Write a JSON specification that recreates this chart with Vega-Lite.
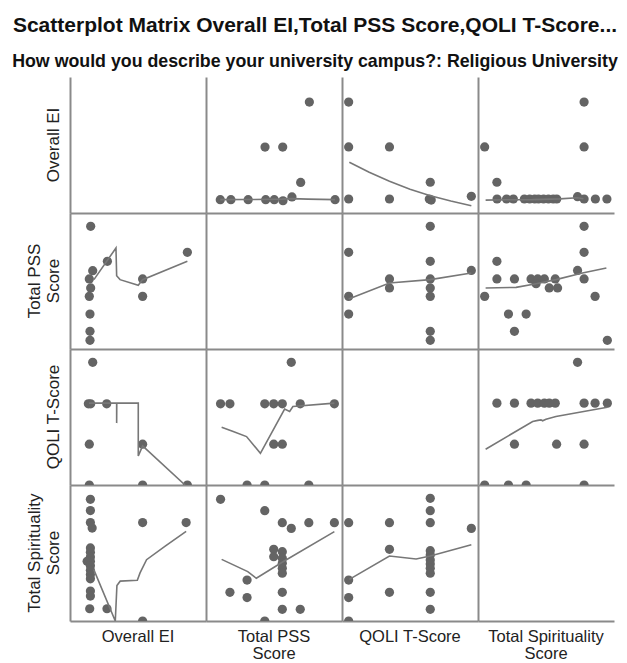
{
"$schema":"https://vega.github.io/schema/vega-lite/v6.json",
"padding":{"left":12,"top":15,"right":5,"bottom":5},
"title":{"text":"Scatterplot Matrix Overall EI,Total PSS Score,QOLI T-Score...","subtitle":"How would you describe your university campus?: Religious University","font":"Liberation Sans","fontSize":21,"fontWeight":"bold","color":"#111111","subtitleFont":"Liberation Sans","subtitleFontSize":17.8,"subtitleFontWeight":"bold","subtitleColor":"#111111","anchor":"middle","dx":-5,"subtitlePadding":17,"offset":6},
"data":{"values":[
{"yVar":"Overall EI","xVar":"Overall EI","k":"none"},
{"yVar":"Total PSS Score","xVar":"Total PSS Score","k":"none"},
{"yVar":"QOLI T-Score","xVar":"QOLI T-Score","k":"none"},
{"yVar":"Total Spirituality Score","xVar":"Total Spirituality Score","k":"none"},

{"yVar":"Overall EI","xVar":"Total PSS Score","k":"pt","x":10.5,"y":9.8},
{"yVar":"Overall EI","xVar":"Total PSS Score","k":"pt","x":18.3,"y":9.8},
{"yVar":"Overall EI","xVar":"Total PSS Score","k":"pt","x":31,"y":9.8},
{"yVar":"Overall EI","xVar":"Total PSS Score","k":"pt","x":43.9,"y":9.8},
{"yVar":"Overall EI","xVar":"Total PSS Score","k":"pt","x":50.2,"y":9.8},
{"yVar":"Overall EI","xVar":"Total PSS Score","k":"pt","x":56.6,"y":9.0},
{"yVar":"Overall EI","xVar":"Total PSS Score","k":"pt","x":63.2,"y":11.8},
{"yVar":"Overall EI","xVar":"Total PSS Score","k":"pt","x":94.9,"y":9.8},
{"yVar":"Overall EI","xVar":"Total PSS Score","k":"pt","x":69.6,"y":22.5},
{"yVar":"Overall EI","xVar":"Total PSS Score","k":"pt","x":43.4,"y":48.5},
{"yVar":"Overall EI","xVar":"Total PSS Score","k":"pt","x":56.4,"y":48.5},
{"yVar":"Overall EI","xVar":"Total PSS Score","k":"pt","x":76,"y":81.6},
{"yVar":"Overall EI","xVar":"Total PSS Score","k":"fit","i":1,"x":10.5,"y":9.8},
{"yVar":"Overall EI","xVar":"Total PSS Score","k":"fit","i":2,"x":30,"y":9.9},
{"yVar":"Overall EI","xVar":"Total PSS Score","k":"fit","i":3,"x":56,"y":10.2},
{"yVar":"Overall EI","xVar":"Total PSS Score","k":"fit","i":4,"x":63,"y":10.6},
{"yVar":"Overall EI","xVar":"Total PSS Score","k":"fit","i":5,"x":75,"y":10.2},
{"yVar":"Overall EI","xVar":"Total PSS Score","k":"fit","i":6,"x":94.9,"y":9.8},

{"yVar":"Overall EI","xVar":"QOLI T-Score","k":"pt","x":4.9,"y":81.6},
{"yVar":"Overall EI","xVar":"QOLI T-Score","k":"pt","x":4.9,"y":48.6},
{"yVar":"Overall EI","xVar":"QOLI T-Score","k":"pt","x":34.9,"y":48.6},
{"yVar":"Overall EI","xVar":"QOLI T-Score","k":"pt","x":64.9,"y":22.6},
{"yVar":"Overall EI","xVar":"QOLI T-Score","k":"pt","x":4.9,"y":10.3},
{"yVar":"Overall EI","xVar":"QOLI T-Score","k":"pt","x":34.9,"y":10.3},
{"yVar":"Overall EI","xVar":"QOLI T-Score","k":"pt","x":64.2,"y":10.3},
{"yVar":"Overall EI","xVar":"QOLI T-Score","k":"pt","x":65.6,"y":9.5},
{"yVar":"Overall EI","xVar":"QOLI T-Score","k":"pt","x":95.1,"y":12.3},
{"yVar":"Overall EI","xVar":"QOLI T-Score","k":"fit","i":1,"x":5.4,"y":37.3},
{"yVar":"Overall EI","xVar":"QOLI T-Score","k":"fit","i":2,"x":20,"y":30},
{"yVar":"Overall EI","xVar":"QOLI T-Score","k":"fit","i":3,"x":34.9,"y":23.3},
{"yVar":"Overall EI","xVar":"QOLI T-Score","k":"fit","i":4,"x":50,"y":17.5},
{"yVar":"Overall EI","xVar":"QOLI T-Score","k":"fit","i":5,"x":64.4,"y":12.8},
{"yVar":"Overall EI","xVar":"QOLI T-Score","k":"fit","i":6,"x":80,"y":8.8},
{"yVar":"Overall EI","xVar":"QOLI T-Score","k":"fit","i":7,"x":95.1,"y":5.4},

{"yVar":"Overall EI","xVar":"Total Spirituality Score","k":"pt","x":4.9,"y":48.6},
{"yVar":"Overall EI","xVar":"Total Spirituality Score","k":"pt","x":13.9,"y":22.6},
{"yVar":"Overall EI","xVar":"Total Spirituality Score","k":"pt","x":78,"y":81.6},
{"yVar":"Overall EI","xVar":"Total Spirituality Score","k":"pt","x":78,"y":48.6},
{"yVar":"Overall EI","xVar":"Total Spirituality Score","k":"pt","x":14,"y":10.3},
{"yVar":"Overall EI","xVar":"Total Spirituality Score","k":"pt","x":21,"y":10.3},
{"yVar":"Overall EI","xVar":"Total Spirituality Score","k":"pt","x":26,"y":10.3},
{"yVar":"Overall EI","xVar":"Total Spirituality Score","k":"pt","x":34.1,"y":10.3},
{"yVar":"Overall EI","xVar":"Total Spirituality Score","k":"pt","x":38,"y":10.3},
{"yVar":"Overall EI","xVar":"Total Spirituality Score","k":"pt","x":41.7,"y":10.3},
{"yVar":"Overall EI","xVar":"Total Spirituality Score","k":"pt","x":44.5,"y":10.3},
{"yVar":"Overall EI","xVar":"Total Spirituality Score","k":"pt","x":48.2,"y":10.3},
{"yVar":"Overall EI","xVar":"Total Spirituality Score","k":"pt","x":51.8,"y":10.3},
{"yVar":"Overall EI","xVar":"Total Spirituality Score","k":"pt","x":55.3,"y":10.3},
{"yVar":"Overall EI","xVar":"Total Spirituality Score","k":"pt","x":57.9,"y":10.3},
{"yVar":"Overall EI","xVar":"Total Spirituality Score","k":"pt","x":73.2,"y":12},
{"yVar":"Overall EI","xVar":"Total Spirituality Score","k":"pt","x":78,"y":10.3},
{"yVar":"Overall EI","xVar":"Total Spirituality Score","k":"pt","x":86.3,"y":10.3},
{"yVar":"Overall EI","xVar":"Total Spirituality Score","k":"pt","x":94.8,"y":10.3},
{"yVar":"Overall EI","xVar":"Total Spirituality Score","k":"fit","i":1,"x":5.6,"y":9.5},
{"yVar":"Overall EI","xVar":"Total Spirituality Score","k":"fit","i":2,"x":20,"y":9.7},
{"yVar":"Overall EI","xVar":"Total Spirituality Score","k":"fit","i":3,"x":40,"y":9.8},
{"yVar":"Overall EI","xVar":"Total Spirituality Score","k":"fit","i":4,"x":60,"y":10.4},
{"yVar":"Overall EI","xVar":"Total Spirituality Score","k":"fit","i":5,"x":73,"y":11.2},
{"yVar":"Overall EI","xVar":"Total Spirituality Score","k":"fit","i":6,"x":77.5,"y":10.5},

{"yVar":"Total PSS Score","xVar":"Overall EI","k":"pt","x":15.2,"y":90.2},
{"yVar":"Total PSS Score","xVar":"Overall EI","k":"pt","x":27.5,"y":64.5},
{"yVar":"Total PSS Score","xVar":"Overall EI","k":"pt","x":16.7,"y":57.6},
{"yVar":"Total PSS Score","xVar":"Overall EI","k":"pt","x":14.2,"y":51.5},
{"yVar":"Total PSS Score","xVar":"Overall EI","k":"pt","x":15.2,"y":44.9},
{"yVar":"Total PSS Score","xVar":"Overall EI","k":"pt","x":14.2,"y":38.7},
{"yVar":"Total PSS Score","xVar":"Overall EI","k":"pt","x":14.7,"y":25.7},
{"yVar":"Total PSS Score","xVar":"Overall EI","k":"pt","x":14.7,"y":13},
{"yVar":"Total PSS Score","xVar":"Overall EI","k":"pt","x":14.7,"y":6.4},
{"yVar":"Total PSS Score","xVar":"Overall EI","k":"pt","x":53.4,"y":51.5},
{"yVar":"Total PSS Score","xVar":"Overall EI","k":"pt","x":53.4,"y":38.7},
{"yVar":"Total PSS Score","xVar":"Overall EI","k":"pt","x":86.3,"y":71.1},
{"yVar":"Total PSS Score","xVar":"Overall EI","k":"fit","i":1,"x":17.6,"y":51},
{"yVar":"Total PSS Score","xVar":"Overall EI","k":"fit","i":2,"x":33.8,"y":74.3},
{"yVar":"Total PSS Score","xVar":"Overall EI","k":"fit","i":3,"x":34.3,"y":53.9},
{"yVar":"Total PSS Score","xVar":"Overall EI","k":"fit","i":4,"x":36.8,"y":51},
{"yVar":"Total PSS Score","xVar":"Overall EI","k":"fit","i":5,"x":50.2,"y":46.8},
{"yVar":"Total PSS Score","xVar":"Overall EI","k":"fit","i":6,"x":53.4,"y":51},
{"yVar":"Total PSS Score","xVar":"Overall EI","k":"fit","i":7,"x":86.3,"y":64.5},

{"yVar":"Total PSS Score","xVar":"QOLI T-Score","k":"pt","x":64.9,"y":90.2},
{"yVar":"Total PSS Score","xVar":"QOLI T-Score","k":"pt","x":4.9,"y":71.1},
{"yVar":"Total PSS Score","xVar":"QOLI T-Score","k":"pt","x":64.9,"y":64.5},
{"yVar":"Total PSS Score","xVar":"QOLI T-Score","k":"pt","x":34.9,"y":51.5},
{"yVar":"Total PSS Score","xVar":"QOLI T-Score","k":"pt","x":34.9,"y":44.9},
{"yVar":"Total PSS Score","xVar":"QOLI T-Score","k":"pt","x":64.9,"y":51.5},
{"yVar":"Total PSS Score","xVar":"QOLI T-Score","k":"pt","x":64.9,"y":44.9},
{"yVar":"Total PSS Score","xVar":"QOLI T-Score","k":"pt","x":64.9,"y":38.7},
{"yVar":"Total PSS Score","xVar":"QOLI T-Score","k":"pt","x":4.9,"y":38.7},
{"yVar":"Total PSS Score","xVar":"QOLI T-Score","k":"pt","x":4.9,"y":25.7},
{"yVar":"Total PSS Score","xVar":"QOLI T-Score","k":"pt","x":64.9,"y":13},
{"yVar":"Total PSS Score","xVar":"QOLI T-Score","k":"pt","x":64.9,"y":6.4},
{"yVar":"Total PSS Score","xVar":"QOLI T-Score","k":"pt","x":95.1,"y":57.8},
{"yVar":"Total PSS Score","xVar":"QOLI T-Score","k":"fit","i":1,"x":4.9,"y":36.8},
{"yVar":"Total PSS Score","xVar":"QOLI T-Score","k":"fit","i":2,"x":34.9,"y":48.5},
{"yVar":"Total PSS Score","xVar":"QOLI T-Score","k":"fit","i":3,"x":64.9,"y":51},
{"yVar":"Total PSS Score","xVar":"QOLI T-Score","k":"fit","i":4,"x":95.1,"y":55.9},

{"yVar":"Total PSS Score","xVar":"Total Spirituality Score","k":"pt","x":78,"y":90.2},
{"yVar":"Total PSS Score","xVar":"Total Spirituality Score","k":"pt","x":78,"y":71.1},
{"yVar":"Total PSS Score","xVar":"Total Spirituality Score","k":"pt","x":13.9,"y":64.5},
{"yVar":"Total PSS Score","xVar":"Total Spirituality Score","k":"pt","x":73.2,"y":57.8},
{"yVar":"Total PSS Score","xVar":"Total Spirituality Score","k":"pt","x":13.9,"y":51.5},
{"yVar":"Total PSS Score","xVar":"Total Spirituality Score","k":"pt","x":26.8,"y":51.5},
{"yVar":"Total PSS Score","xVar":"Total Spirituality Score","k":"pt","x":39,"y":51.5},
{"yVar":"Total PSS Score","xVar":"Total Spirituality Score","k":"pt","x":43.9,"y":51.5},
{"yVar":"Total PSS Score","xVar":"Total Spirituality Score","k":"pt","x":48.8,"y":51.5},
{"yVar":"Total PSS Score","xVar":"Total Spirituality Score","k":"pt","x":56.8,"y":51.5},
{"yVar":"Total PSS Score","xVar":"Total Spirituality Score","k":"pt","x":78,"y":51.5},
{"yVar":"Total PSS Score","xVar":"Total Spirituality Score","k":"pt","x":42.7,"y":48},
{"yVar":"Total PSS Score","xVar":"Total Spirituality Score","k":"pt","x":52.4,"y":44.9},
{"yVar":"Total PSS Score","xVar":"Total Spirituality Score","k":"pt","x":58.5,"y":44.9},
{"yVar":"Total PSS Score","xVar":"Total Spirituality Score","k":"pt","x":4.9,"y":38.7},
{"yVar":"Total PSS Score","xVar":"Total Spirituality Score","k":"pt","x":86.1,"y":38.7},
{"yVar":"Total PSS Score","xVar":"Total Spirituality Score","k":"pt","x":22.4,"y":25.7},
{"yVar":"Total PSS Score","xVar":"Total Spirituality Score","k":"pt","x":35.4,"y":25.7},
{"yVar":"Total PSS Score","xVar":"Total Spirituality Score","k":"pt","x":26.8,"y":13},
{"yVar":"Total PSS Score","xVar":"Total Spirituality Score","k":"pt","x":95.1,"y":6.4},
{"yVar":"Total PSS Score","xVar":"Total Spirituality Score","k":"fit","i":1,"x":5.6,"y":44.9},
{"yVar":"Total PSS Score","xVar":"Total Spirituality Score","k":"fit","i":2,"x":28,"y":45.3},
{"yVar":"Total PSS Score","xVar":"Total Spirituality Score","k":"fit","i":3,"x":42.7,"y":48},
{"yVar":"Total PSS Score","xVar":"Total Spirituality Score","k":"fit","i":4,"x":57.3,"y":51},
{"yVar":"Total PSS Score","xVar":"Total Spirituality Score","k":"fit","i":5,"x":76.8,"y":55.9},
{"yVar":"Total PSS Score","xVar":"Total Spirituality Score","k":"fit","i":6,"x":94.4,"y":59.6},

{"yVar":"QOLI T-Score","xVar":"Overall EI","k":"pt","x":16.7,"y":90.2},
{"yVar":"QOLI T-Score","xVar":"Overall EI","k":"pt","x":13.5,"y":59.7},
{"yVar":"QOLI T-Score","xVar":"Overall EI","k":"pt","x":15.2,"y":59.7},
{"yVar":"QOLI T-Score","xVar":"Overall EI","k":"pt","x":27,"y":59.7},
{"yVar":"QOLI T-Score","xVar":"Overall EI","k":"pt","x":14.2,"y":30},
{"yVar":"QOLI T-Score","xVar":"Overall EI","k":"pt","x":53.4,"y":30},
{"yVar":"QOLI T-Score","xVar":"Overall EI","k":"pt","x":14.2,"y":0},
{"yVar":"QOLI T-Score","xVar":"Overall EI","k":"pt","x":53.4,"y":0},
{"yVar":"QOLI T-Score","xVar":"Overall EI","k":"pt","x":86.3,"y":0},
{"yVar":"QOLI T-Score","xVar":"Overall EI","k":"fit","i":1,"x":14,"y":60.2},
{"yVar":"QOLI T-Score","xVar":"Overall EI","k":"fit","i":2,"x":34.3,"y":60.2},
{"yVar":"QOLI T-Score","xVar":"Overall EI","k":"fit","i":3,"x":34.3,"y":45.5},
{"yVar":"QOLI T-Score","xVar":"Overall EI","k":"fit","i":4,"x":34.4,"y":60.2},
{"yVar":"QOLI T-Score","xVar":"Overall EI","k":"fit","i":5,"x":50.2,"y":60.2},
{"yVar":"QOLI T-Score","xVar":"Overall EI","k":"fit","i":6,"x":50.2,"y":21.4},
{"yVar":"QOLI T-Score","xVar":"Overall EI","k":"fit","i":7,"x":53.4,"y":28.7},
{"yVar":"QOLI T-Score","xVar":"Overall EI","k":"fit","i":8,"x":84.6,"y":0},

{"yVar":"QOLI T-Score","xVar":"Total PSS Score","k":"pt","x":62.7,"y":90.2},
{"yVar":"QOLI T-Score","xVar":"Total PSS Score","k":"pt","x":10.7,"y":59.7},
{"yVar":"QOLI T-Score","xVar":"Total PSS Score","k":"pt","x":17.6,"y":59.7},
{"yVar":"QOLI T-Score","xVar":"Total PSS Score","k":"pt","x":43.2,"y":59.7},
{"yVar":"QOLI T-Score","xVar":"Total PSS Score","k":"pt","x":49.8,"y":59.7},
{"yVar":"QOLI T-Score","xVar":"Total PSS Score","k":"pt","x":56.1,"y":59.7},
{"yVar":"QOLI T-Score","xVar":"Total PSS Score","k":"pt","x":69.3,"y":59.7},
{"yVar":"QOLI T-Score","xVar":"Total PSS Score","k":"pt","x":94.4,"y":59.7},
{"yVar":"QOLI T-Score","xVar":"Total PSS Score","k":"pt","x":49.8,"y":30},
{"yVar":"QOLI T-Score","xVar":"Total PSS Score","k":"pt","x":56.1,"y":30},
{"yVar":"QOLI T-Score","xVar":"Total PSS Score","k":"pt","x":30.2,"y":0},
{"yVar":"QOLI T-Score","xVar":"Total PSS Score","k":"pt","x":43.2,"y":0},
{"yVar":"QOLI T-Score","xVar":"Total PSS Score","k":"pt","x":75.6,"y":0},
{"yVar":"QOLI T-Score","xVar":"Total PSS Score","k":"fit","i":1,"x":11.5,"y":42.5},
{"yVar":"QOLI T-Score","xVar":"Total PSS Score","k":"fit","i":2,"x":20,"y":39.3},
{"yVar":"QOLI T-Score","xVar":"Total PSS Score","k":"fit","i":3,"x":29.8,"y":35.6},
{"yVar":"QOLI T-Score","xVar":"Total PSS Score","k":"fit","i":4,"x":40,"y":23.3},
{"yVar":"QOLI T-Score","xVar":"Total PSS Score","k":"fit","i":5,"x":57.8,"y":55.8},
{"yVar":"QOLI T-Score","xVar":"Total PSS Score","k":"fit","i":6,"x":61.5,"y":54},
{"yVar":"QOLI T-Score","xVar":"Total PSS Score","k":"fit","i":7,"x":63.9,"y":57.7},
{"yVar":"QOLI T-Score","xVar":"Total PSS Score","k":"fit","i":8,"x":94.4,"y":60.2},

{"yVar":"QOLI T-Score","xVar":"Total Spirituality Score","k":"pt","x":73.2,"y":90.2},
{"yVar":"QOLI T-Score","xVar":"Total Spirituality Score","k":"pt","x":13.9,"y":60.2},
{"yVar":"QOLI T-Score","xVar":"Total Spirituality Score","k":"pt","x":26.8,"y":60.2},
{"yVar":"QOLI T-Score","xVar":"Total Spirituality Score","k":"pt","x":39,"y":60.2},
{"yVar":"QOLI T-Score","xVar":"Total Spirituality Score","k":"pt","x":43.9,"y":60.2},
{"yVar":"QOLI T-Score","xVar":"Total Spirituality Score","k":"pt","x":48.8,"y":60.2},
{"yVar":"QOLI T-Score","xVar":"Total Spirituality Score","k":"pt","x":52.4,"y":60.2},
{"yVar":"QOLI T-Score","xVar":"Total Spirituality Score","k":"pt","x":56.8,"y":60.2},
{"yVar":"QOLI T-Score","xVar":"Total Spirituality Score","k":"pt","x":78,"y":60.2},
{"yVar":"QOLI T-Score","xVar":"Total Spirituality Score","k":"pt","x":86.1,"y":60.2},
{"yVar":"QOLI T-Score","xVar":"Total Spirituality Score","k":"pt","x":95.1,"y":60.2},
{"yVar":"QOLI T-Score","xVar":"Total Spirituality Score","k":"pt","x":26.8,"y":30},
{"yVar":"QOLI T-Score","xVar":"Total Spirituality Score","k":"pt","x":57.8,"y":30},
{"yVar":"QOLI T-Score","xVar":"Total Spirituality Score","k":"pt","x":78,"y":30},
{"yVar":"QOLI T-Score","xVar":"Total Spirituality Score","k":"pt","x":4.9,"y":0},
{"yVar":"QOLI T-Score","xVar":"Total Spirituality Score","k":"pt","x":22.4,"y":0},
{"yVar":"QOLI T-Score","xVar":"Total Spirituality Score","k":"pt","x":35.4,"y":0},
{"yVar":"QOLI T-Score","xVar":"Total Spirituality Score","k":"pt","x":78,"y":0},
{"yVar":"QOLI T-Score","xVar":"Total Spirituality Score","k":"fit","i":1,"x":5.6,"y":26.3},
{"yVar":"QOLI T-Score","xVar":"Total Spirituality Score","k":"fit","i":2,"x":40.2,"y":46.7},
{"yVar":"QOLI T-Score","xVar":"Total Spirituality Score","k":"fit","i":3,"x":44,"y":47.5},
{"yVar":"QOLI T-Score","xVar":"Total Spirituality Score","k":"fit","i":4,"x":46.3,"y":47.9},
{"yVar":"QOLI T-Score","xVar":"Total Spirituality Score","k":"fit","i":5,"x":47.5,"y":47.2},
{"yVar":"QOLI T-Score","xVar":"Total Spirituality Score","k":"fit","i":6,"x":50,"y":48.4},
{"yVar":"QOLI T-Score","xVar":"Total Spirituality Score","k":"fit","i":7,"x":57.3,"y":50.4},
{"yVar":"QOLI T-Score","xVar":"Total Spirituality Score","k":"fit","i":8,"x":95.1,"y":57.2},

{"yVar":"Total Spirituality Score","xVar":"Overall EI","k":"pt","x":15,"y":89.5},
{"yVar":"Total Spirituality Score","xVar":"Overall EI","k":"pt","x":15,"y":81.2},
{"yVar":"Total Spirituality Score","xVar":"Overall EI","k":"pt","x":15,"y":72.4},
{"yVar":"Total Spirituality Score","xVar":"Overall EI","k":"pt","x":16.3,"y":68.3},
{"yVar":"Total Spirituality Score","xVar":"Overall EI","k":"pt","x":15,"y":53.7},
{"yVar":"Total Spirituality Score","xVar":"Overall EI","k":"pt","x":15,"y":50.5},
{"yVar":"Total Spirituality Score","xVar":"Overall EI","k":"pt","x":15,"y":47.1},
{"yVar":"Total Spirituality Score","xVar":"Overall EI","k":"pt","x":15,"y":43.9},
{"yVar":"Total Spirituality Score","xVar":"Overall EI","k":"pt","x":12.6,"y":43.9},
{"yVar":"Total Spirituality Score","xVar":"Overall EI","k":"pt","x":15,"y":40.7},
{"yVar":"Total Spirituality Score","xVar":"Overall EI","k":"pt","x":15,"y":37.3},
{"yVar":"Total Spirituality Score","xVar":"Overall EI","k":"pt","x":15,"y":34.1},
{"yVar":"Total Spirituality Score","xVar":"Overall EI","k":"pt","x":15,"y":31},
{"yVar":"Total Spirituality Score","xVar":"Overall EI","k":"pt","x":15,"y":22},
{"yVar":"Total Spirituality Score","xVar":"Overall EI","k":"pt","x":15,"y":18.3},
{"yVar":"Total Spirituality Score","xVar":"Overall EI","k":"pt","x":14.5,"y":9},
{"yVar":"Total Spirituality Score","xVar":"Overall EI","k":"pt","x":27.2,"y":9},
{"yVar":"Total Spirituality Score","xVar":"Overall EI","k":"pt","x":53.4,"y":72.4},
{"yVar":"Total Spirituality Score","xVar":"Overall EI","k":"pt","x":85.4,"y":72.4},
{"yVar":"Total Spirituality Score","xVar":"Overall EI","k":"pt","x":53.4,"y":0},
{"yVar":"Total Spirituality Score","xVar":"Overall EI","k":"fit","i":1,"x":17.5,"y":37.8},
{"yVar":"Total Spirituality Score","xVar":"Overall EI","k":"fit","i":2,"x":33.3,"y":0},
{"yVar":"Total Spirituality Score","xVar":"Overall EI","k":"fit","i":3,"x":34.5,"y":26.1},
{"yVar":"Total Spirituality Score","xVar":"Overall EI","k":"fit","i":4,"x":36.9,"y":29.3},
{"yVar":"Total Spirituality Score","xVar":"Overall EI","k":"fit","i":5,"x":49.5,"y":30},
{"yVar":"Total Spirituality Score","xVar":"Overall EI","k":"fit","i":6,"x":51.5,"y":35.4},
{"yVar":"Total Spirituality Score","xVar":"Overall EI","k":"fit","i":7,"x":56.3,"y":45.1},
{"yVar":"Total Spirituality Score","xVar":"Overall EI","k":"fit","i":8,"x":70,"y":55},
{"yVar":"Total Spirituality Score","xVar":"Overall EI","k":"fit","i":9,"x":85.4,"y":65.9},

{"yVar":"Total Spirituality Score","xVar":"Total PSS Score","k":"pt","x":10.7,"y":89.5},
{"yVar":"Total Spirituality Score","xVar":"Total PSS Score","k":"pt","x":43.2,"y":81.1},
{"yVar":"Total Spirituality Score","xVar":"Total PSS Score","k":"pt","x":56.1,"y":72.3},
{"yVar":"Total Spirituality Score","xVar":"Total PSS Score","k":"pt","x":62.7,"y":68.1},
{"yVar":"Total Spirituality Score","xVar":"Total PSS Score","k":"pt","x":75.6,"y":72.3},
{"yVar":"Total Spirituality Score","xVar":"Total PSS Score","k":"pt","x":94.4,"y":72.3},
{"yVar":"Total Spirituality Score","xVar":"Total PSS Score","k":"pt","x":49.8,"y":52.7},
{"yVar":"Total Spirituality Score","xVar":"Total PSS Score","k":"pt","x":56.1,"y":51},
{"yVar":"Total Spirituality Score","xVar":"Total PSS Score","k":"pt","x":49.8,"y":47.3},
{"yVar":"Total Spirituality Score","xVar":"Total PSS Score","k":"pt","x":56.1,"y":46.1},
{"yVar":"Total Spirituality Score","xVar":"Total PSS Score","k":"pt","x":56.1,"y":42.4},
{"yVar":"Total Spirituality Score","xVar":"Total PSS Score","k":"pt","x":56.1,"y":38.7},
{"yVar":"Total Spirituality Score","xVar":"Total PSS Score","k":"pt","x":56.1,"y":35.1},
{"yVar":"Total Spirituality Score","xVar":"Total PSS Score","k":"pt","x":30.2,"y":30.1},
{"yVar":"Total Spirituality Score","xVar":"Total PSS Score","k":"pt","x":17.6,"y":21.1},
{"yVar":"Total Spirituality Score","xVar":"Total PSS Score","k":"pt","x":30.2,"y":17.2},
{"yVar":"Total Spirituality Score","xVar":"Total PSS Score","k":"pt","x":56.1,"y":21.1},
{"yVar":"Total Spirituality Score","xVar":"Total PSS Score","k":"pt","x":56.1,"y":8.6},
{"yVar":"Total Spirituality Score","xVar":"Total PSS Score","k":"pt","x":69.3,"y":8.6},
{"yVar":"Total Spirituality Score","xVar":"Total PSS Score","k":"pt","x":43.2,"y":0},
{"yVar":"Total Spirituality Score","xVar":"Total PSS Score","k":"fit","i":1,"x":11.5,"y":45.3},
{"yVar":"Total Spirituality Score","xVar":"Total PSS Score","k":"fit","i":2,"x":30.7,"y":36.3},
{"yVar":"Total Spirituality Score","xVar":"Total PSS Score","k":"fit","i":3,"x":37,"y":31.4},
{"yVar":"Total Spirituality Score","xVar":"Total PSS Score","k":"fit","i":4,"x":56.6,"y":43.6},
{"yVar":"Total Spirituality Score","xVar":"Total PSS Score","k":"fit","i":5,"x":94.4,"y":65.7},

{"yVar":"Total Spirituality Score","xVar":"QOLI T-Score","k":"pt","x":4.9,"y":72.3},
{"yVar":"Total Spirituality Score","xVar":"QOLI T-Score","k":"pt","x":34.9,"y":72.3},
{"yVar":"Total Spirituality Score","xVar":"QOLI T-Score","k":"pt","x":64.9,"y":90.2},
{"yVar":"Total Spirituality Score","xVar":"QOLI T-Score","k":"pt","x":64.9,"y":81.1},
{"yVar":"Total Spirituality Score","xVar":"QOLI T-Score","k":"pt","x":64.9,"y":72.3},
{"yVar":"Total Spirituality Score","xVar":"QOLI T-Score","k":"pt","x":95.1,"y":68.1},
{"yVar":"Total Spirituality Score","xVar":"QOLI T-Score","k":"pt","x":34.9,"y":52.7},
{"yVar":"Total Spirituality Score","xVar":"QOLI T-Score","k":"pt","x":64.9,"y":51.7},
{"yVar":"Total Spirituality Score","xVar":"QOLI T-Score","k":"pt","x":64.9,"y":48.5},
{"yVar":"Total Spirituality Score","xVar":"QOLI T-Score","k":"pt","x":64.9,"y":44.9},
{"yVar":"Total Spirituality Score","xVar":"QOLI T-Score","k":"pt","x":64.9,"y":41.9},
{"yVar":"Total Spirituality Score","xVar":"QOLI T-Score","k":"pt","x":64.9,"y":38.7},
{"yVar":"Total Spirituality Score","xVar":"QOLI T-Score","k":"pt","x":64.9,"y":35.1},
{"yVar":"Total Spirituality Score","xVar":"QOLI T-Score","k":"pt","x":4.9,"y":30.1},
{"yVar":"Total Spirituality Score","xVar":"QOLI T-Score","k":"pt","x":4.9,"y":17.2},
{"yVar":"Total Spirituality Score","xVar":"QOLI T-Score","k":"pt","x":34.9,"y":21.1},
{"yVar":"Total Spirituality Score","xVar":"QOLI T-Score","k":"pt","x":64.9,"y":21.1},
{"yVar":"Total Spirituality Score","xVar":"QOLI T-Score","k":"pt","x":64.9,"y":8.6},
{"yVar":"Total Spirituality Score","xVar":"QOLI T-Score","k":"pt","x":4.9,"y":0},
{"yVar":"Total Spirituality Score","xVar":"QOLI T-Score","k":"fit","i":1,"x":5.4,"y":30.6},
{"yVar":"Total Spirituality Score","xVar":"QOLI T-Score","k":"fit","i":2,"x":34.9,"y":47.8},
{"yVar":"Total Spirituality Score","xVar":"QOLI T-Score","k":"fit","i":3,"x":54.5,"y":45.6},
{"yVar":"Total Spirituality Score","xVar":"QOLI T-Score","k":"fit","i":4,"x":64.9,"y":47.8},
{"yVar":"Total Spirituality Score","xVar":"QOLI T-Score","k":"fit","i":5,"x":95.1,"y":56.1}
]},
"facet":{
"row":{"field":"yVar","type":"nominal","sort":["Overall EI","Total PSS Score","QOLI T-Score","Total Spirituality Score"],"header":{"title":null,"labelOrient":"left","labelAngle":-90,"labelAlign":"center","labelBaseline":"bottom","labelPadding":-10,"labelLineHeight":19,"labelFont":"Liberation Sans","labelFontSize":17,"labelColor":"#222222","labelExpr":"datum.value == 'Total PSS Score' ? ['Total PSS','Score'] : datum.value == 'Total Spirituality Score' ? ['Total Spirituality','Score'] : datum.value"}},
"column":{"field":"xVar","type":"nominal","sort":["Overall EI","Total PSS Score","QOLI T-Score","Total Spirituality Score"],"header":{"title":null,"labelOrient":"bottom","labelAlign":"center","labelBaseline":"top","labelPadding":8,"labelLineHeight":17,"labelFont":"Liberation Sans","labelFontSize":16.5,"labelColor":"#222222","labelExpr":"datum.value == 'Total PSS Score' ? ['Total PSS','Score'] : datum.value == 'Total Spirituality Score' ? ['Total Spirituality','Score'] : datum.value"}}
},
"spacing":0,
"spec":{
"width":136,"height":136,
"layer":[
{"transform":[{"filter":"datum.k == 'pt'"}],
 "mark":{"type":"circle","size":85,"color":"#646464","opacity":1,"clip":true},
 "encoding":{
  "x":{"field":"x","type":"quantitative","scale":{"domain":[0,100],"nice":false,"zero":false}},
  "y":{"field":"y","type":"quantitative","scale":{"domain":[0,100],"nice":false,"zero":false}}}},
{"transform":[{"filter":"datum.k == 'fit'"}],
 "mark":{"type":"line","color":"#777777","strokeWidth":1.6,"clip":true},
 "encoding":{
  "x":{"field":"x","type":"quantitative","scale":{"domain":[0,100],"nice":false,"zero":false}},
  "y":{"field":"y","type":"quantitative","scale":{"domain":[0,100],"nice":false,"zero":false}},
  "order":{"field":"i","type":"quantitative"}}}
]},
"resolve":{"axis":{"x":"independent","y":"independent"}},
"config":{
"view":{"stroke":null},
"axis":{"domain":true,"domainColor":"#8a8a8a","domainWidth":2,"ticks":false,"labels":false,"grid":false,"title":null,"minExtent":0,"maxExtent":0}
}
}
